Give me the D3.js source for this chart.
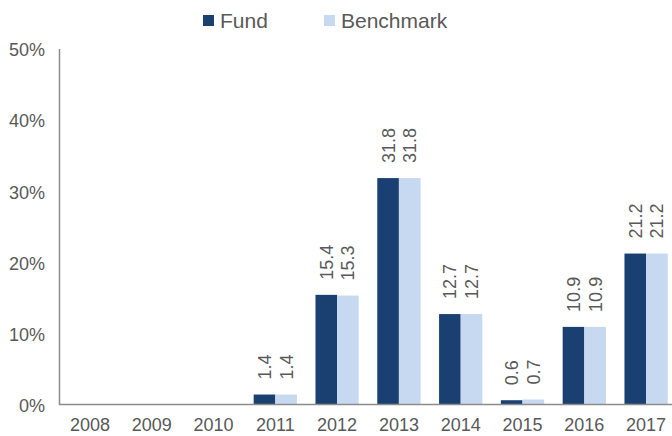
<!DOCTYPE html>
<html><head><meta charset="utf-8">
<script src="https://cdn.jsdelivr.net/npm/d3@7"></script>
<style>html,body{margin:0;padding:0;background:#fff;}svg{display:block;font-family:"Liberation Sans",Arial,sans-serif;}</style>
</head><body>
<svg id="c" width="672" height="436"></svg>
<script>
const categories = ["2008","2009","2010","2011","2012","2013","2014","2015","2016","2017"];
const fund = [null,null,null,1.4,15.4,31.8,12.7,0.6,10.9,21.2];
const benchmark = [null,null,null,1.4,15.3,31.8,12.7,0.7,10.9,21.2];
const yTicks = [0,10,20,30,40,50];
const seriesNames = ["Fund","Benchmark"];
const colors = ["#1a4071","#c6d9f0"];
const textColor = "#595959";

const svg = d3.select("#c");
const x0 = d3.scaleBand().domain(categories).range([59, 677]).paddingInner(0.3).paddingOuter(0.15);
const x1 = d3.scaleBand().domain(seriesNames).range([0, x0.bandwidth()]);
const y = d3.scaleLinear().domain([0,50]).range([404.5, 48.5]);

// y axis
const yAxis = svg.append("g").attr("transform","translate(59,0)")
  .call(d3.axisLeft(y).tickValues(yTicks).tickSize(0).tickPadding(14).tickFormat(d=>d+"%"));
yAxis.select(".domain").attr("stroke","#8c8c8c").attr("stroke-width",1.5);
yAxis.selectAll("text").attr("font-size",18).attr("fill",textColor).attr("font-family","Liberation Sans, Arial, sans-serif").attr("dy","0.4em");

// bars
const series = [fund, benchmark];
series.forEach((vals, si) => {
  const data = categories.map((c,i)=>({c, v: vals[i]})).filter(d=>d.v!=null);
  svg.append("g").selectAll("rect").data(data).join("rect")
    .attr("x", d=>x0(d.c)+x1(seriesNames[si]))
    .attr("width", x1.bandwidth())
    .attr("y", d=>y(d.v))
    .attr("height", d=>y(0)-y(d.v))
    .attr("fill", colors[si]);
  svg.append("g").selectAll("text").data(data).join("text")
    .attr("transform", d=>`translate(${x0(d.c)+x1(seriesNames[si])+x1.bandwidth()/2+6.5},${y(d.v)-15}) rotate(-90)`)
    .attr("text-anchor","start")
    .attr("font-size",18).attr("fill",textColor)
    .text(d=>d.v.toFixed(1));
});

// x axis
const xAxis = svg.append("g").attr("transform","translate(0,404.5)")
  .call(d3.axisBottom(x0).tickSize(0).tickPadding(14).tickSizeOuter(0));
xAxis.select(".domain").attr("stroke","#8c8c8c").attr("stroke-width",1.5).attr("d","M59,0H672");
xAxis.selectAll("text").attr("font-size",18).attr("fill",textColor).attr("font-family","Liberation Sans, Arial, sans-serif");

// legend
const legX = [203, 324];
seriesNames.forEach((n,i)=>{
  svg.append("rect").attr("x",legX[i]).attr("y",15).attr("width",11).attr("height",11).attr("fill",colors[i]);
  svg.append("text").attr("x",legX[i]+17).attr("y",28).attr("font-size",21).attr("fill",textColor).text(n);
});
</script>
</body></html>
